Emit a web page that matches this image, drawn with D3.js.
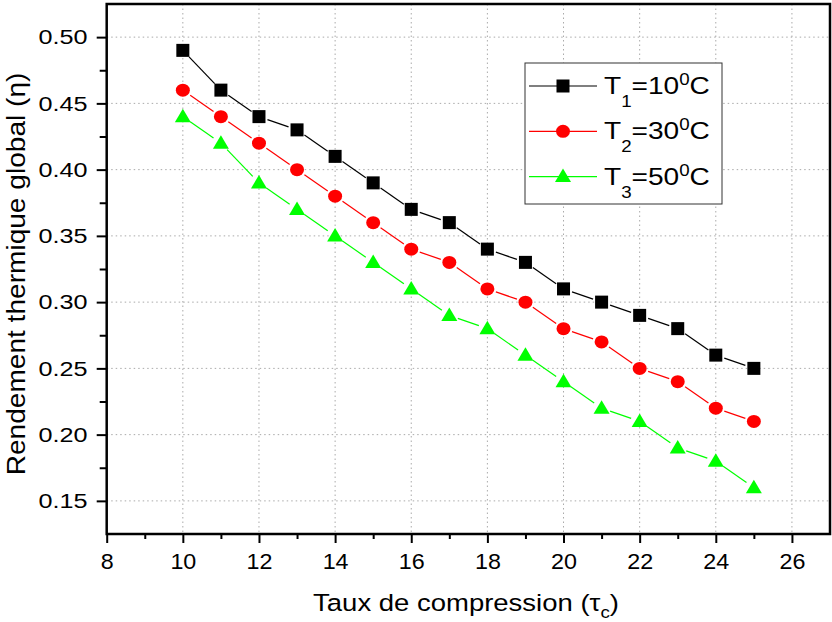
<!DOCTYPE html>
<html><head><meta charset="utf-8">
<script src="https://cdn.jsdelivr.net/npm/d3@7"></script>
<style>body{margin:0;background:#fff}svg{display:block}text{font-family:"Liberation Sans",Arial,sans-serif}</style>
</head><body><svg id="c" width="832" height="622"></svg>
<script>
const ratios = [10,11,12,13,14,15,16,17,18,19,20,21,22,23,24,25];
const t1 = [0.49,0.46,0.44,0.43,0.41,0.39,0.37,0.36,0.34,0.33,0.31,0.30,0.29,0.28,0.26,0.25];
const t2 = [0.46,0.44,0.42,0.40,0.38,0.36,0.34,0.33,0.31,0.30,0.28,0.27,0.25,0.24,0.22,0.21];
const t3 = [0.44,0.42,0.39,0.37,0.35,0.33,0.31,0.29,0.28,0.26,0.24,0.22,0.21,0.19,0.18,0.16];
const xTicks = [8,10,12,14,16,18,20,22,24,26];
const yTicks = [0.15,0.20,0.25,0.30,0.35,0.40,0.45,0.50];
const seriesNames = [["T","1","=10","0","C"],["T","2","=30","0","C"],["T","3","=50","0","C"]];

const svg = d3.select("#c");
const L=106.7, R=830, T=4, B=534;
const x = d3.scaleLinear().domain([8,27]).range([L,R]);
const y = d3.scaleLinear().domain([0.125,0.525]).range([B,T]);

// grid
const g = svg.append("g");
g.selectAll("line.vg").data(xTicks.filter(v=>v>8)).join("line")
  .attr("x1",d=>x(d)).attr("x2",d=>x(d)).attr("y1",T).attr("y2",B)
  .attr("stroke","#aaa").attr("stroke-width",1).attr("stroke-dasharray","1.5,3");
g.selectAll("line.hg").data(yTicks).join("line")
  .attr("y1",d=>y(d)).attr("y2",d=>y(d)).attr("x1",L).attr("x2",R)
  .attr("stroke","#aaa").attr("stroke-width",1).attr("stroke-dasharray","1.5,3");

// axes
const xAxis = d3.axisBottom(x).tickValues(xTicks).tickFormat(d3.format("d")).tickSize(9).tickPadding(10);
const xMinor = d3.axisBottom(x).tickValues(d3.range(9,27,2)).tickFormat("").tickSize(5);
const yAxis = d3.axisLeft(y).tickValues(yTicks).tickFormat(d3.format(".2f")).tickSize(10).tickPadding(6);
const yMinor = d3.axisLeft(y).tickValues([0.175,0.225,0.275,0.325,0.375,0.425,0.475]).tickFormat("").tickSize(7);
function style(sel,fs,sx){
  sel.select(".domain").remove();
  sel.selectAll("line").attr("stroke","#000").attr("stroke-width",2);
  sel.selectAll("text").attr("fill","#000").style("font-size",fs+"px").attr("transform",`scale(${sx},1)`);
}
svg.append("g").attr("transform",`translate(0,${B})`).call(xAxis).call(s=>style(s,22,1.06));
svg.append("g").attr("transform",`translate(0,${B})`).call(xMinor).call(s=>style(s,22,1));
svg.append("g").attr("transform",`translate(${L},0)`).call(yAxis).call(s=>style(s,21,1.2));
svg.append("g").attr("transform",`translate(${L},0)`).call(yMinor).call(s=>style(s,21,1));

// frame
svg.append("rect").attr("x",L).attr("y",T).attr("width",R-L).attr("height",B-T)
  .attr("fill","none").attr("stroke","#000").attr("stroke-width",2.5);

// series
const series = [
  {vals:t1,color:"#000000",shape:"square"},
  {vals:t2,color:"#ff0000",shape:"circle"},
  {vals:t3,color:"#00ff00",shape:"triangle"}];
function marker(sel,shape,color){
  if(shape==="square") sel.append("rect").attr("x",-6.5).attr("y",-6.5).attr("width",13).attr("height",13).attr("fill",color);
  else if(shape==="circle") sel.append("ellipse").attr("rx",7).attr("ry",6.5).attr("fill",color);
  else sel.append("path").attr("d","M0,-8L8,5.5L-8,5.5Z").attr("fill",color);
}
const gap = 9;
series.forEach(s=>{
  const pts = ratios.map((r,i)=>[x(r),y(s.vals[i])]);
  const gs = svg.append("g");
  for(let i=0;i<pts.length-1;i++){
    const [x0,y0]=pts[i],[x1,y1]=pts[i+1];
    const dx=x1-x0,dy=y1-y0,len=Math.hypot(dx,dy);
    if(len<2*gap) continue;
    gs.append("line").attr("x1",x0+dx/len*gap).attr("y1",y0+dy/len*gap)
      .attr("x2",x1-dx/len*gap).attr("y2",y1-dy/len*gap)
      .attr("stroke",s.color).attr("stroke-width",1.2);
  }
  pts.forEach(p=>{const m=gs.append("g").attr("transform",`translate(${p[0]},${p[1]})`);marker(m,s.shape,s.color);});
});

// legend
const lg = svg.append("g");
lg.append("rect").attr("x",525).attr("y",63).attr("width",197).attr("height",141)
  .attr("fill","#fff").attr("stroke","#333").attr("stroke-width",1);
series.forEach((s,i)=>{
  const yy = 86 + i*45.3;
  lg.append("line").attr("x1",529).attr("x2",597).attr("y1",yy).attr("y2",yy).attr("stroke",s.color).attr("stroke-width",1.2);
  const m = lg.append("g").attr("transform",`translate(563,${yy})`);
  marker(m,s.shape,s.color);
  const n = seriesNames[i];
  const t = lg.append("text").attr("transform",`translate(604,${yy+8}) scale(1.17,1)`).style("font-size","24px").attr("fill","#000");
  t.append("tspan").text(n[0]);
  t.append("tspan").attr("dy",13).style("font-size","16px").text(n[1]);
  t.append("tspan").attr("dy",-13).text(n[2]);
  t.append("tspan").attr("dy",-9).style("font-size","16px").text(n[3]);
  t.append("tspan").attr("dy",9).text(n[4]);
});

// axis titles
const xt = svg.append("text").attr("transform","translate(466,611) scale(1.17,1)").attr("text-anchor","middle").style("font-size","23.5px").attr("fill","#000");
xt.append("tspan").text("Taux de compression (τ");
xt.append("tspan").attr("dy",7).style("font-size","16px").text("c");
xt.append("tspan").attr("dy",-7).text(")");
svg.append("text").attr("transform","translate(25,274) rotate(-90) scale(1.06,1)").attr("text-anchor","middle")
  .style("font-size","26.5px").attr("fill","#000").text("Rendement thermique global (η)");
</script></body></html>
